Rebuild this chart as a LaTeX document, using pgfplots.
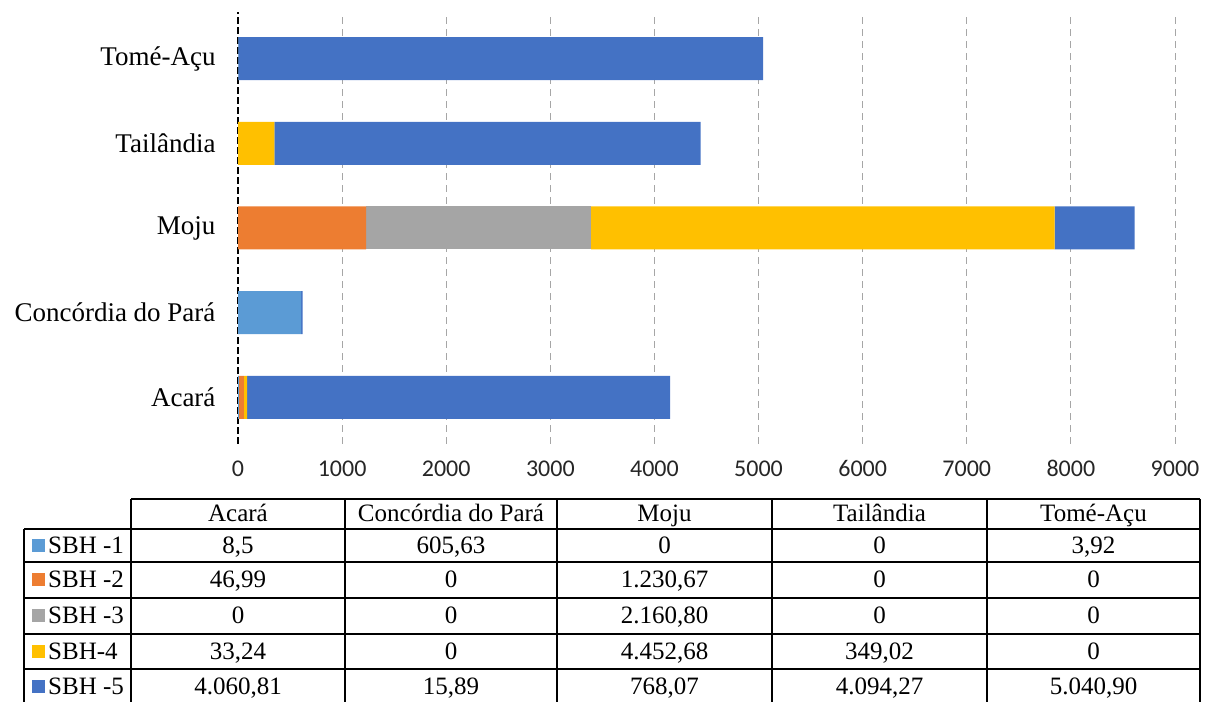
\documentclass[border=0pt]{standalone}
\usepackage{pgfplots}
\pgfplotsset{compat=1.18}
\usepackage{fontspec}
\setmainfont{Liberation Serif}
\newfontfamily\carlito{Carlito}
\definecolor{sbhA}{HTML}{5B9BD5}
\definecolor{sbhB}{HTML}{ED7D31}
\definecolor{sbhC}{HTML}{A5A5A5}
\definecolor{sbhD}{HTML}{FFC000}
\definecolor{sbhE}{HTML}{4472C4}
\begin{document}
\begin{tikzpicture}
\useasboundingbox (0pt,0pt) rectangle (1212pt,701pt);
\begin{axis}[
  at={(238pt,257pt)}, anchor=south west, scale only axis,
  width=937pt, height=432pt,
  xmin=0, xmax=9000, ymin=-0.55, ymax=4.55,
  xbar stacked, bar width=43pt,
  axis line style={draw=none},
  xtick={1000,2000,...,9000},
  extra x ticks={0},
  extra x tick style={major grid style={black, line width=2pt, dash pattern=on 7pt off 3pt}},
  xmajorgrids, major grid style={gray!70, line width=0.9pt, dash pattern=on 7pt off 5pt},
  major tick length=0pt,
  ytick={0,1,2,3,4},
  yticklabels={Acará, Concórdia do Pará, Moju, Tailândia, Tomé-Açu},
  xticklabel style={font=\carlito\fontsize{24}{28}\selectfont, text=black!85, yshift=-13pt},
  yticklabel style={font=\fontsize{27}{32}\selectfont, xshift=-19pt},
  /pgf/number format/assume math mode=true,
  /pgf/number format/1000 sep={},
  every axis plot/.append style={draw=none},
]
\addplot[fill=sbhA] coordinates {(8.5,0) (605.63,1) (0,2) (0,3) (3.92,4)};
\addplot[fill=sbhB] coordinates {(46.99,0) (0,1) (1230.67,2) (0,3) (0,4)};
\addplot[fill=sbhC] coordinates {(0,0) (0,1) (2160.80,2) (0,3) (0,4)};
\addplot[fill=sbhD] coordinates {(33.24,0) (0,1) (4452.68,2) (349.02,3) (0,4)};
\addplot[fill=sbhE] coordinates {(4060.81,0) (15.89,1) (768.07,2) (4094.27,3) (5040.90,4)};
\end{axis}
% table
\begin{scope}[line width=1.3pt]
\draw (131pt,202pt) -- (1200pt,202pt);
\draw (24pt,172pt) -- (1200pt,172pt);
\foreach \yy in {139,103,67,32} {\draw (24pt,\yy pt) -- (1200pt,\yy pt);}
\draw (24pt,172pt) -- (24pt,-5pt);
\foreach \xx in {131,345,557,772,987,1200} {\draw (\xx pt,202pt) -- (\xx pt,-5pt);}
\end{scope}
\begin{scope}[every node/.style={font=\fontsize{25}{30}\selectfont, anchor=base, inner sep=0pt}]
% header
\node at (238pt,179pt) {Acará};
\node at (451pt,179pt) {Concórdia do Pará};
\node at (664.5pt,179pt) {Moju};
\node at (879.5pt,179pt) {Tailândia};
\node at (1093.5pt,179pt) {Tomé-Açu};
% row labels
\fill[sbhA] (32pt,149pt) rectangle (45pt,162pt);
\node[anchor=base west] at (48pt,147.5pt) {SBH -1};
\fill[sbhB] (32pt,114.5pt) rectangle (45pt,127.5pt);
\node[anchor=base west] at (48pt,113pt) {SBH -2};
\fill[sbhC] (32pt,78.5pt) rectangle (45pt,91.5pt);
\node[anchor=base west] at (48pt,77pt) {SBH -3};
\fill[sbhD] (32pt,43pt) rectangle (45pt,56pt);
\node[anchor=base west] at (48pt,41.5pt) {SBH-4};
\fill[sbhE] (32pt,8pt) rectangle (45pt,21pt);
\node[anchor=base west] at (48pt,6.5pt) {SBH -5};
% values
\node at (238pt,147.5pt) {8,5};
\node at (451pt,147.5pt) {605,63};
\node at (664.5pt,147.5pt) {0};
\node at (879.5pt,147.5pt) {0};
\node at (1093.5pt,147.5pt) {3,92};
\node at (238pt,113pt) {46,99};
\node at (451pt,113pt) {0};
\node at (664.5pt,113pt) {1.230,67};
\node at (879.5pt,113pt) {0};
\node at (1093.5pt,113pt) {0};
\node at (238pt,77pt) {0};
\node at (451pt,77pt) {0};
\node at (664.5pt,77pt) {2.160,80};
\node at (879.5pt,77pt) {0};
\node at (1093.5pt,77pt) {0};
\node at (238pt,41.5pt) {33,24};
\node at (451pt,41.5pt) {0};
\node at (664.5pt,41.5pt) {4.452,68};
\node at (879.5pt,41.5pt) {349,02};
\node at (1093.5pt,41.5pt) {0};
\node at (238pt,6.5pt) {4.060,81};
\node at (451pt,6.5pt) {15,89};
\node at (664.5pt,6.5pt) {768,07};
\node at (879.5pt,6.5pt) {4.094,27};
\node at (1093.5pt,6.5pt) {5.040,90};
\end{scope}
\end{tikzpicture}
\end{document}
